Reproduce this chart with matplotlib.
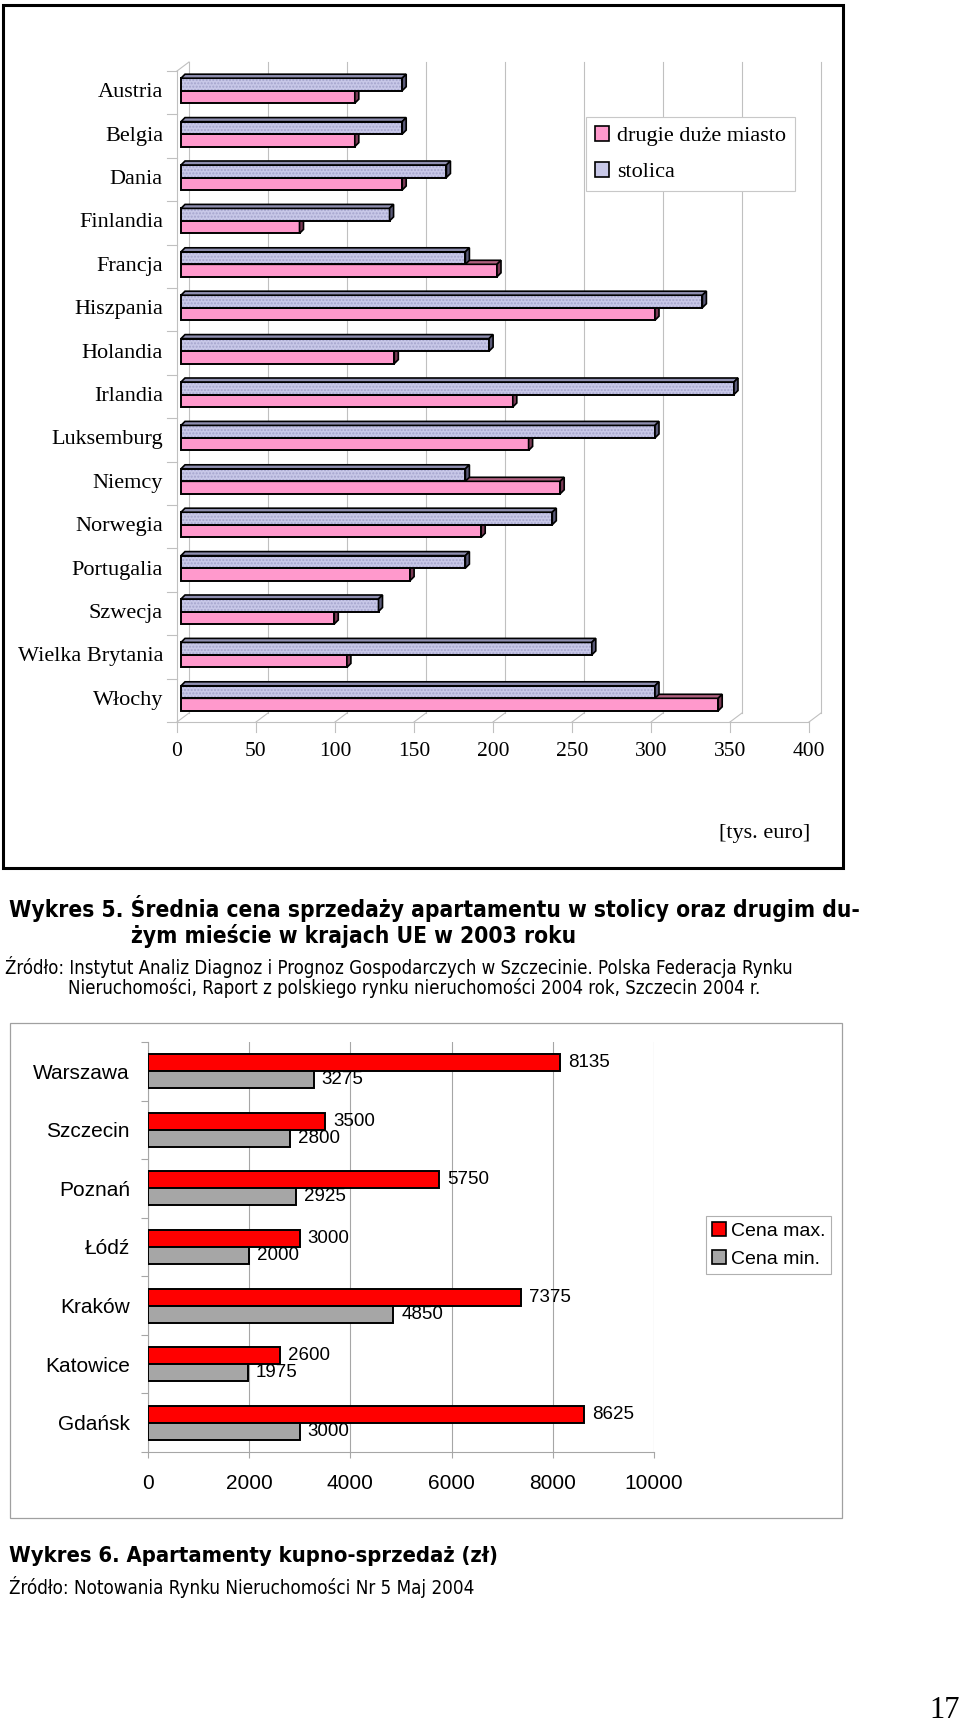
import matplotlib
matplotlib.use('Agg')
import matplotlib.pyplot as plt
from matplotlib.patches import Rectangle, Polygon, Patch
from matplotlib import font_manager as fm

# ---------------- data: chart 1 ----------------
countries = ['Austria', 'Belgia', 'Dania', 'Finlandia', 'Francja', 'Hiszpania',
             'Holandia', 'Irlandia', 'Luksemburg', 'Niemcy', 'Norwegia',
             'Portugalia', 'Szwecja', 'Wielka Brytania', 'Włochy']
stolica = [140, 140, 168, 132, 180, 330, 195, 350, 300, 180, 235, 180, 125, 260, 300]
drugie = [110, 110, 140, 75, 200, 300, 135, 210, 220, 240, 190, 145, 97, 105, 340]
x1_ticks = [0, 50, 100, 150, 200, 250, 300, 350, 400]
legend1_labels = ['drugie duże miasto', 'stolica']
unit1 = '[tys. euro]'

# ---------------- data: chart 2 ----------------
cities = ['Warszawa', 'Szczecin', 'Poznań', 'Łódź', 'Kraków', 'Katowice', 'Gdańsk']
cena_max = [8135, 3500, 5750, 3000, 7375, 2600, 8625]
cena_min = [3275, 2800, 2925, 2000, 4850, 1975, 3000]
x2_ticks = [0, 2000, 4000, 6000, 8000, 10000]
legend2_labels = ['Cena max.', 'Cena min.']

# ---------------- texts ----------------
title5_l1 = 'Wykres 5. Średnia cena sprzedaży apartamentu w stolicy oraz drugim du-'
title5_l2 = 'żym mieście w krajach UE w 2003 roku'
src5_l1 = 'Źródło: Instytut Analiz Diagnoz i Prognoz Gospodarczych w Szczecinie. Polska Federacja Rynku'
src5_l2 = 'Nieruchomości, Raport z polskiego rynku nieruchomości 2004 rok, Szczecin 2004 r.'
title6 = 'Wykres 6. Apartamenty kupno-sprzedaż (zł)'
src6 = 'Źródło: Notowania Rynku Nieruchomości Nr 5 Maj 2004'
page_no = '17'

W, H, DPI = 960, 1725, 100
SERIF = 'Liberation Serif'
SANS = 'Liberation Sans'


def find_narrow(bold):
    best = None
    for f in fm.fontManager.ttflist:
        nm = f.name.lower()
        fn = f.fname.lower()
        if 'mono' in nm or 'serif' in nm or 'mono' in fn:
            continue
        narrow = (f.stretch in ('condensed', 'semi-condensed', 'extra-condensed')
                  or 'narrow' in nm or 'condensed' in nm or 'narrow' in fn
                  or 'condensed' in fn)
        if not narrow:
            continue
        if f.style != 'normal':
            continue
        w = f.weight if isinstance(f.weight, int) else (700 if 'bold' in str(f.weight) else 400)
        if bold and w < 600:
            continue
        if not bold and w >= 600:
            continue
        score = 0
        if 'liberation' in nm or 'arial' in nm:
            score += 3
        if 'dejavu' in nm or 'roboto' in nm or 'open' in nm:
            score += 1
        if best is None or score > best[0]:
            best = (score, f.fname)
    return best[1] if best else None


nar_reg = find_narrow(False)
nar_bold = find_narrow(True)
if nar_reg and nar_bold:
    CAP_REG = dict(fontproperties=fm.FontProperties(fname=nar_reg))
    CAP_BOLD = dict(fontproperties=fm.FontProperties(fname=nar_bold))
else:
    CAP_REG = dict(family=SANS)
    CAP_BOLD = dict(family=SANS, fontweight='bold')


def fx(x):
    return x / W


def fy(y):
    return 1 - y / H


fig = plt.figure(figsize=(W / DPI, H / DPI), dpi=DPI, facecolor='white')

# ======================= chart 1 (pseudo 3D) =======================
PINK = '#FF99CC'
LAV = '#C8C8E8'
LAV_DOT = '#A4A4CC'
LAV_TOP = '#8E8EB0'
LAV_SIDE = '#5A5A78'
PINK_TOP = '#B0607F'
PINK_SIDE = '#7A3A55'
GRID1 = '#C0C0C0'

ax1 = fig.add_axes([fx(177), fy(722), 632 / W, 651 / H])
n1 = len(countries)
ax1.set_xlim(0, 400)
ax1.set_ylim(n1 - 0.5, -0.5)
ax1.axis('off')

UX1 = 632 / 400.0
UY1 = 651 / float(n1)
WALL_DX, WALL_DY = 12 / UX1, -9 / UY1
BAR_OX, BAR_OY = 4 / UX1, -2 / UY1
BAR_H = 12.5 / UY1
DEP_X, DEP_Y = 4 / UX1, -4 / UY1
ybot = n1 - 0.5
ytop = -0.5
glw = 0.8

for v in x1_ticks:
    ax1.plot([v + WALL_DX] * 2, [ytop + WALL_DY, ybot + WALL_DY], color=GRID1, lw=glw, clip_on=False, zorder=1)
    ax1.plot([v, v + WALL_DX], [ybot, ybot + WALL_DY], color=GRID1, lw=glw, clip_on=False, zorder=1)
    ax1.plot([v, v], [ybot, ybot + 10 / UY1], color=GRID1, lw=glw, clip_on=False, zorder=1)
    ax1.text(v, ybot + 30 / UY1, str(v), ha='center', va='center', fontsize=15.5,
             family=SERIF, color='black')
ax1.plot([0, 400], [ybot, ybot], color=GRID1, lw=glw, clip_on=False, zorder=1)
ax1.plot([0, 0], [ytop, ybot], color=GRID1, lw=glw, clip_on=False, zorder=1)
ax1.plot([0, WALL_DX], [ytop, ytop + WALL_DY], color=GRID1, lw=glw, clip_on=False, zorder=1)
for k in range(n1 + 1):
    ax1.plot([-10 / UX1, 0], [k - 0.5, k - 0.5], color=GRID1, lw=glw, clip_on=False, zorder=1)

for i, c in enumerate(countries):
    ax1.text(-14 / UX1, i, c, ha='right', va='center', fontsize=16, family=SERIF)

y_st = [i + BAR_OY - BAR_H / 2 for i in range(n1)]
y_dr = [i + BAR_OY + BAR_H / 2 for i in range(n1)]


def faces(ax, yc, vals, topc, sidec, z):
    for y, v in zip(yc, vals):
        yt = y - BAR_H / 2
        yb = y + BAR_H / 2
        x0 = BAR_OX
        x1 = BAR_OX + v
        top = Polygon([(x0, yt), (x1, yt), (x1 + DEP_X, yt + DEP_Y), (x0 + DEP_X, yt + DEP_Y)],
                      closed=True, facecolor=topc, edgecolor='black', lw=1.2, zorder=z,
                      clip_on=False, joinstyle='miter')
        side = Polygon([(x1, yt), (x1, yb), (x1 + DEP_X, yb + DEP_Y), (x1 + DEP_X, yt + DEP_Y)],
                       closed=True, facecolor=sidec, edgecolor='black', lw=1.2, zorder=z,
                       clip_on=False, joinstyle='miter')
        ax.add_patch(top)
        ax.add_patch(side)


ax1.barh(y_dr, drugie, height=BAR_H, left=BAR_OX, color=PINK, edgecolor='black',
         lw=1.4, zorder=3, clip_on=False)
faces(ax1, y_dr, drugie, PINK_TOP, PINK_SIDE, 3)
ax1.barh(y_st, stolica, height=BAR_H, left=BAR_OX, color=LAV, edgecolor=LAV_DOT,
         hatch='.....', lw=0, zorder=4, clip_on=False)
ax1.barh(y_st, stolica, height=BAR_H, left=BAR_OX, fill=False, edgecolor='black',
         lw=1.4, zorder=4.1, clip_on=False)
faces(ax1, y_st, stolica, LAV_TOP, LAV_SIDE, 4.2)

h1 = [Patch(facecolor=PINK, edgecolor='black', lw=1.2),
      Patch(facecolor=LAV, edgecolor='black', lw=1.2)]
leg1 = fig.legend(h1, legend1_labels, loc='upper left', bbox_to_anchor=(fx(586), fy(117)),
                  frameon=True, fancybox=False, framealpha=1, edgecolor='#C8C8C8',
                  borderaxespad=0, borderpad=0.4, labelspacing=0.7, handlelength=0.65,
                  handleheight=0.65, handletextpad=0.35,
                  prop={'family': SERIF, 'size': 16})
leg1.get_frame().set_linewidth(0.8)

fig.text(fx(765), fy(833), unit1, ha='center', va='center', fontsize=16, family=SERIF)

fig.patches.append(Rectangle((fx(3), fy(868)), 840 / W, 863 / H, transform=fig.transFigure,
                             fill=False, edgecolor='black', lw=2.2))

# ======================= chart 2 =======================
RED = '#FF0000'
GRAY = '#A6A6A6'
GRID2 = '#A6A6A6'
n2 = len(cities)
ax2 = fig.add_axes([fx(148), fy(1452), 506 / W, 410 / H])
ax2.set_xlim(0, 10000)
ax2.set_ylim(n2 - 0.5, -0.5)
BH2 = 17 / (410 / n2)
ypos = list(range(n2))
ax2.barh([y - BH2 / 2 for y in ypos], cena_max, height=BH2, color=RED, edgecolor='black',
         lw=1.4, zorder=3)
ax2.barh([y + BH2 / 2 for y in ypos], cena_min, height=BH2, color=GRAY, edgecolor='black',
         lw=1.4, zorder=3)
for y, v in zip(ypos, cena_max):
    ax2.annotate(str(v), xy=(v, y - BH2 / 2), xytext=(8, 0), textcoords='offset pixels',
                 ha='left', va='center', fontsize=13.5, family=SANS, zorder=5)
for y, v in zip(ypos, cena_min):
    ax2.annotate(str(v), xy=(v, y + BH2 / 2), xytext=(8, 0), textcoords='offset pixels',
                 ha='left', va='center', fontsize=13.5, family=SANS, zorder=5)

for s in ['top', 'right']:
    ax2.spines[s].set_visible(False)
for s in ['left', 'bottom']:
    ax2.spines[s].set_color(GRID2)
    ax2.spines[s].set_linewidth(0.8)
ax2.set_xticks(x2_ticks)
ax2.set_xticklabels([str(t) for t in x2_ticks], fontsize=15, family=SANS)
ax2.tick_params(axis='x', length=4, width=0.8, color=GRID2, pad=12)
ax2.set_yticks(ypos)
ax2.set_yticklabels(cities, fontsize=15, family=SANS)
ax2.set_yticks([k - 0.5 for k in range(n2 + 1)], minor=True)
ax2.tick_params(axis='y', which='major', length=0, pad=13)
ax2.tick_params(axis='y', which='minor', length=5, width=0.8, color=GRID2)
ax2.grid(axis='x', color=GRID2, lw=0.8, zorder=0)
ax2.set_axisbelow(True)
ax2.patch.set_alpha(0)

h2 = [Patch(facecolor=RED, edgecolor='black', lw=1.2),
      Patch(facecolor=GRAY, edgecolor='black', lw=1.2)]
leg2 = fig.legend(h2, legend2_labels, loc='upper left', bbox_to_anchor=(fx(706), fy(1216)),
                  frameon=True, fancybox=False, framealpha=1, edgecolor='#B0B0B0',
                  borderaxespad=0, borderpad=0.3, labelspacing=0.55, handlelength=0.72,
                  handleheight=0.72, handletextpad=0.25,
                  prop={'family': SANS, 'size': 14})
leg2.get_frame().set_linewidth(0.8)

fig.patches.append(Rectangle((fx(10), fy(1518)), 832 / W, 495 / H, transform=fig.transFigure,
                             fill=False, edgecolor='#A0A0A0', lw=0.9))

# ======================= captions (sized to the widths in the page) =======================
renderer = fig.canvas.get_renderer()


def caption_pair(lines, xs, ys, target_w, props, base=16):
    t0 = fig.text(fx(xs[0]), fy(ys[0]), lines[0], ha='left', va='center', fontsize=base, **props)
    wpx = t0.get_window_extent(renderer).width
    size = base * target_w / wpx
    t0.set_fontsize(size)
    for line, x, y in zip(lines[1:], xs[1:], ys[1:]):
        fig.text(fx(x), fy(y), line, ha='left', va='center', fontsize=size, **props)


caption_pair([title5_l1, title5_l2], [9, 131], [909, 936], 850, CAP_BOLD)
caption_pair([src5_l1, src5_l2], [5, 68], [967, 988], 790, CAP_REG)
caption_pair([title6], [9], [1556], 490, CAP_BOLD)
caption_pair([src6], [9], [1587], 470, CAP_REG)

fig.text(fx(960), fy(1711), page_no, ha='right', va='center', fontsize=22, family=SERIF)

fig.savefig('out.png', dpi=DPI, facecolor='white')
